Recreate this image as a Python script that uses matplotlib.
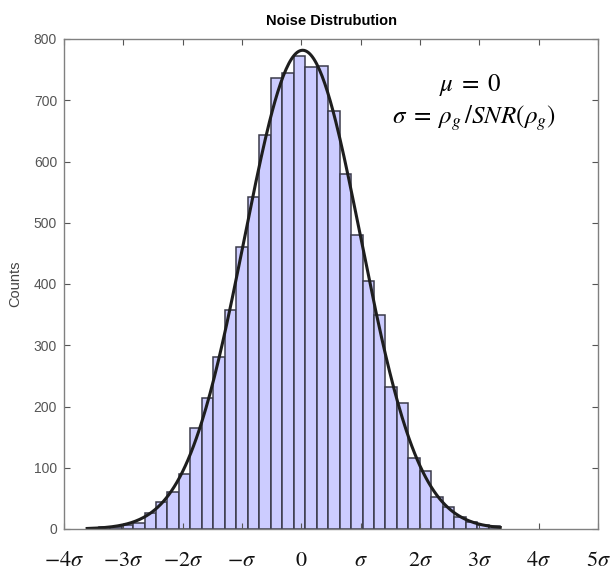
import matplotlib
matplotlib.use('Agg')
import matplotlib.pyplot as plt
import numpy as np

plt.rcParams['font.family'] = ['Liberation Sans', 'DejaVu Sans']
plt.rcParams['mathtext.fontset'] = 'stix'

# histogram of the noise samples (counts per bin, x in units of sigma)
bin_left = -3.61
bin_width = 0.1934
counts = [2, 4, 4, 7, 10, 26, 44, 61, 90, 165, 214, 281, 357, 460, 542, 643,
          737, 745, 772, 755, 756, 683, 580, 480, 405, 349, 232, 206, 116, 95,
          53, 36, 20, 12, 6, 5]

xtick_pos = [-4, -3, -2, -1, 0, 1, 2, 3, 4, 5]
xtick_labels = [r'$-4\sigma$', r'$-3\sigma$', r'$-2\sigma$', r'$-\sigma$', r'$0$',
                r'$\sigma$', r'$2\sigma$', r'$3\sigma$', r'$4\sigma$', r'$5\sigma$']
ytick_pos = [0, 100, 200, 300, 400, 500, 600, 700, 800]

counts = np.array(counts, dtype=float)
edges = bin_left + bin_width * np.arange(len(counts) + 1)
centers = 0.5 * (edges[:-1] + edges[1:])

# normal fit from the binned data (like histfit)
n = counts.sum()
mu = np.sum(counts * centers) / n
sd = np.sqrt(np.sum(counts * (centers - mu) ** 2) / n)
xf = np.linspace(edges[0], edges[-1], 300)
yf = n * bin_width * np.exp(-0.5 * ((xf - mu) / sd) ** 2) / (sd * np.sqrt(2 * np.pi))

fig = plt.figure(figsize=(6.15, 5.79), dpi=100)
ax = fig.add_axes([64 / 615, 1 - 529 / 579, 534 / 615, 490 / 579])

ax.bar(edges[:-1], counts, width=bin_width, align='edge',
       color='#ccccff', edgecolor='#3a3a4a', linewidth=1.1)
ax.plot(xf, yf, color='#1e1e1e', linewidth=2.2)

ax.set_xlim(-4, 5)
ax.set_ylim(0, 800)
ax.set_xticks(xtick_pos)
ax.set_xticklabels(xtick_labels, fontsize=16, color='#111111')
ax.set_yticks(ytick_pos)
ax.tick_params(axis='y', labelsize=10, colors='#555555', direction='in',
               length=4, right=True, pad=5)
ax.tick_params(axis='x', direction='in', length=4, top=True, pad=15,
               color='#555555', labelcolor='#111111')
for sp in ax.spines.values():
    sp.set_color('#808080')
    sp.set_linewidth(1.0)

ax.set_title('Noise Distrubution', fontsize=10.5, fontweight='bold', pad=10)
ax.set_ylabel('Counts', fontsize=10.5, color='#444444', labelpad=8)

ax.text(2.85, 725, r'$\mu\;=\;0$', fontsize=18, ha='center', va='center')
ax.text(2.9, 671, r'$\sigma\;=\;\rho_g\,/SNR(\rho_g)$', fontsize=18,
        ha='center', va='center')

fig.savefig('out.png', dpi=100)
